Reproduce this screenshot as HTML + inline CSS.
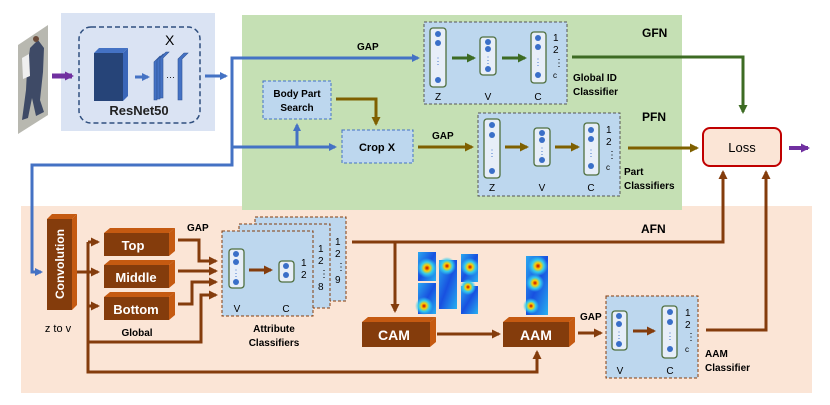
<!DOCTYPE html>
<html><head><meta charset="utf-8"><style>
html,body{margin:0;padding:0;background:#fff;}
svg{display:block;font-family:"Liberation Sans",sans-serif;}
.b{font-weight:bold;}
</style></head><body>
<svg width="830" height="405" viewBox="0 0 830 405" xmlns="http://www.w3.org/2000/svg">
<defs>
<marker id="ab" markerWidth="8" markerHeight="8" refX="6" refY="4" orient="auto" markerUnits="userSpaceOnUse"><path d="M0,0 L8,4 L0,8z" fill="#4472c4"/></marker>
<marker id="ag" markerWidth="9" markerHeight="9" refX="7" refY="4.5" orient="auto" markerUnits="userSpaceOnUse"><path d="M0,0 L9,4.5 L0,9z" fill="#3d6b23"/></marker>
<marker id="ao" markerWidth="9" markerHeight="9" refX="7" refY="4.5" orient="auto" markerUnits="userSpaceOnUse"><path d="M0,0 L9,4.5 L0,9z" fill="#7f6000"/></marker>
<marker id="ar" markerWidth="9" markerHeight="9" refX="7" refY="4.5" orient="auto" markerUnits="userSpaceOnUse"><path d="M0,0 L9,4.5 L0,9z" fill="#843c0c"/></marker>
<marker id="ap" markerWidth="9" markerHeight="9" refX="7" refY="4.5" orient="auto" markerUnits="userSpaceOnUse"><path d="M0,0 L9,4.5 L0,9z" fill="#7030a0"/></marker>
<radialGradient id="hm"><stop offset="0" stop-color="#c00000"/><stop offset="0.3" stop-color="#ffd000"/><stop offset="0.6" stop-color="#33ccee"/><stop offset="1" stop-color="#33ccee" stop-opacity="0"/></radialGradient>
<linearGradient id="hb" x1="0" y1="0" x2="1" y2="1"><stop offset="0" stop-color="#2aa8f0"/><stop offset="0.5" stop-color="#1850e0"/><stop offset="1" stop-color="#28b0f0"/></linearGradient>
</defs>

<rect x="21" y="206" width="791" height="187" fill="#fbe5d6"/>
<rect x="242" y="15" width="440" height="195" fill="#c5e0b4"/>
<rect x="61" y="13" width="154" height="118" fill="#dae3f3"/>

<!-- person -->
<polygon points="18,45 48,25 48,115 18,134" fill="#b8b8b0"/>
<polygon points="30,48 38,40 44,48 43,72 40,100 44,112 36,116 32,98 28,118 22,120 26,90 27,70" fill="#3e4a66"/>
<polygon points="22,58 29,54 30,76 23,79" fill="#efefef"/>
<circle cx="36" cy="39" r="3" fill="#6a4a3a"/>
<line x1="52" y1="76" x2="72" y2="76" stroke="#7030a0" stroke-width="5" marker-end="url(#ap)"/>

<!-- ResNet -->
<rect x="79" y="27" width="121" height="96" rx="12" fill="none" stroke="#2f4f7f" stroke-width="1.5" stroke-dasharray="5,3"/>
<polygon points="94,53 99,48 128,48 123,53" fill="#4472c4"/>
<polygon points="123,53 128,48 128,96 123,101" fill="#3a66b8"/>
<rect x="94" y="53" width="29" height="48" fill="#264478"/>
<line x1="135" y1="77" x2="148" y2="77" stroke="#4472c4" stroke-width="3" marker-end="url(#ab)"/>
<g fill="#4472c4" stroke="#2f5597" stroke-width="0.6">
<polygon points="154,62 160,56 163,56 157,62 157,100 154,100"/>
<polygon points="157,60 163,54 166,54 160,60 160,99 157,99"/>
<polygon points="160,58 166,52 169,52 163,58 163,98 160,98"/>
<polygon points="178,59 184,53 188,53 182,59 182,100 178,100"/>
</g>
<text x="166" y="80" font-size="9">···</text>
<text x="165" y="45" font-size="14">X</text>
<text x="139" y="115" font-size="13" class="b" text-anchor="middle" fill="#222">ResNet50</text>
<line x1="205" y1="76" x2="226" y2="76" stroke="#4472c4" stroke-width="3" marker-end="url(#ab)"/>

<polyline points="32,216 32,165 232,165 232,58 418,58" fill="none" stroke="#4472c4" stroke-width="3" marker-end="url(#ab)"/>
<polyline points="32,200 32,272 41,272" fill="none" stroke="#4472c4" stroke-width="3" marker-end="url(#ab)"/>
<line x1="232" y1="147" x2="335" y2="147" stroke="#4472c4" stroke-width="3" marker-end="url(#ab)"/>
<line x1="297" y1="147" x2="297" y2="125" stroke="#4472c4" stroke-width="3" marker-end="url(#ab)"/>
<text x="357" y="50" font-size="10" class="b">GAP</text>

<rect x="263" y="81" width="68" height="38" fill="#bdd7ee" stroke="#4472c4" stroke-dasharray="3,2"/>
<text x="297" y="97" font-size="10" class="b" text-anchor="middle">Body Part</text>
<text x="297" y="111" font-size="10" class="b" text-anchor="middle">Search</text>
<polyline points="336,99 376,99 376,124" fill="none" stroke="#7f6000" stroke-width="3" marker-end="url(#ao)"/>
<rect x="342" y="130" width="71" height="33" fill="#bdd7ee" stroke="#4472c4" stroke-dasharray="3,2"/>
<text x="377" y="151" font-size="11" class="b" text-anchor="middle">Crop X</text>
<text x="432" y="139" font-size="10" class="b">GAP</text>
<line x1="418" y1="147" x2="472" y2="147" stroke="#7f6000" stroke-width="3" marker-end="url(#ao)"/>

<rect x="424" y="22" width="143" height="82" fill="#bdd7ee" stroke="#555" stroke-dasharray="3,2"/>
<g fill="#e7eef8" stroke="#4f6f3f" stroke-width="1.3">
<rect x="430" y="28" width="16" height="59" rx="3"/>
<rect x="480" y="37" width="16" height="38" rx="3"/>
<rect x="531" y="32" width="15" height="51" rx="3"/>
</g>
<g fill="#3a6fc8">
<circle cx="438" cy="34" r="3"/><circle cx="438" cy="43" r="3"/><circle cx="438" cy="80" r="3"/>
<circle cx="488" cy="42" r="3"/><circle cx="488" cy="49" r="3"/><circle cx="488" cy="69" r="3"/>
<circle cx="538" cy="38" r="3"/><circle cx="538" cy="47" r="3"/><circle cx="538" cy="75" r="3"/>
</g>
<g fill="#3a6fc8" font-size="9" text-anchor="middle"><text x="438" y="64">⋮</text><text x="488" y="63">⋮</text><text x="538" y="65">⋮</text></g>
<line x1="452" y1="58" x2="474" y2="58" stroke="#3d6b23" stroke-width="3" marker-end="url(#ag)"/>
<line x1="502" y1="58" x2="525" y2="58" stroke="#3d6b23" stroke-width="3" marker-end="url(#ag)"/>
<g font-size="10" text-anchor="middle"><text x="438" y="100">Z</text><text x="488" y="100">V</text><text x="538" y="100">C</text></g>
<g font-size="10"><text x="553" y="41">1</text><text x="553" y="53">2</text><text x="554" y="66">⋮</text><text x="553" y="78" font-size="8">c</text></g>
<text x="573" y="81" font-size="10" class="b">Global ID</text>
<text x="573" y="95" font-size="10" class="b">Classifier</text>
<text x="642" y="37" font-size="12" class="b">GFN</text>
<polyline points="572,57 743,57 743,112" fill="none" stroke="#3d6b23" stroke-width="3" marker-end="url(#ag)"/>

<rect x="478" y="113" width="142" height="83" fill="#bdd7ee" stroke="#555" stroke-dasharray="3,2"/>
<g fill="#e7eef8" stroke="#4f6f3f" stroke-width="1.3">
<rect x="484" y="119" width="16" height="59" rx="3"/>
<rect x="534" y="128" width="16" height="38" rx="3"/>
<rect x="584" y="123" width="15" height="52" rx="3"/>
</g>
<g fill="#3a6fc8">
<circle cx="492" cy="125" r="3"/><circle cx="492" cy="135" r="3"/><circle cx="492" cy="171" r="3"/>
<circle cx="542" cy="133" r="3"/><circle cx="542" cy="140" r="3"/><circle cx="542" cy="160" r="3"/>
<circle cx="591" cy="130" r="3"/><circle cx="591" cy="139" r="3"/><circle cx="591" cy="166" r="3"/>
</g>
<g fill="#3a6fc8" font-size="9" text-anchor="middle"><text x="492" y="156">⋮</text><text x="542" y="154">⋮</text><text x="591" y="156">⋮</text></g>
<line x1="505" y1="147" x2="527" y2="147" stroke="#7f6000" stroke-width="3" marker-end="url(#ao)"/>
<line x1="555" y1="147" x2="578" y2="147" stroke="#7f6000" stroke-width="3" marker-end="url(#ao)"/>
<g font-size="10" text-anchor="middle"><text x="492" y="191">Z</text><text x="542" y="191">V</text><text x="591" y="191">C</text></g>
<g font-size="10"><text x="606" y="133">1</text><text x="606" y="145">2</text><text x="607" y="158">⋮</text><text x="606" y="170" font-size="8">c</text></g>
<text x="624" y="175" font-size="10" class="b">Part</text>
<text x="624" y="189" font-size="10" class="b">Classifiers</text>
<text x="642" y="121" font-size="12" class="b">PFN</text>
<line x1="628" y1="148" x2="697" y2="148" stroke="#7f6000" stroke-width="3" marker-end="url(#ao)"/>

<rect x="703" y="128" width="78" height="38" rx="7" fill="#fbe5d6" stroke="#c00000" stroke-width="2"/>
<text x="742" y="152" font-size="13" text-anchor="middle">Loss</text>
<line x1="789" y1="148" x2="808" y2="148" stroke="#7030a0" stroke-width="4" marker-end="url(#ap)"/>

<polygon points="47,219 52,214 77,214 72,219" fill="#c55a11"/>
<polygon points="72,219 77,214 77,305 72,310" fill="#c55a11"/>
<rect x="47" y="219" width="25" height="91" fill="#843c0c"/>
<text transform="translate(64,264) rotate(-90)" font-size="12" class="b" fill="#fff" text-anchor="middle">Convolution</text>
<text x="58" y="332" font-size="11" text-anchor="middle">z to v</text>

<g>
<polygon points="104,233 110,228 175,228 169,233" fill="#c55a11"/>
<polygon points="169,233 175,228 175,251 169,256" fill="#c55a11"/>
<rect x="104" y="233" width="65" height="23" fill="#843c0c"/>
<text x="133" y="250" font-size="13" class="b" fill="#fff" text-anchor="middle">Top</text>
<polygon points="104,265 110,260 175,260 169,265" fill="#c55a11"/>
<polygon points="169,265 175,260 175,283 169,288" fill="#c55a11"/>
<rect x="104" y="265" width="65" height="23" fill="#843c0c"/>
<text x="136" y="282" font-size="13" class="b" fill="#fff" text-anchor="middle">Middle</text>
<polygon points="104,297 110,292 175,292 169,297" fill="#c55a11"/>
<polygon points="169,297 175,292 175,315 169,320" fill="#c55a11"/>
<rect x="104" y="297" width="65" height="23" fill="#843c0c"/>
<text x="136" y="314" font-size="13" class="b" fill="#fff" text-anchor="middle">Bottom</text>
</g>
<text x="137" y="336" font-size="10" class="b" text-anchor="middle">Global</text>
<g fill="none" stroke="#843c0c" stroke-width="3">
<line x1="77" y1="272" x2="98" y2="272" marker-end="url(#ar)"/>
<polyline points="88,242 88,372 537,372 537,352" marker-end="url(#ar)"/>
<line x1="88" y1="242" x2="98" y2="242" marker-end="url(#ar)"/>
<line x1="88" y1="306" x2="98" y2="306" marker-end="url(#ar)"/>
<polyline points="88,342 201,342 201,295 216,295" marker-end="url(#ar)"/>
<polyline points="178,240 199,240 199,261 216,261" marker-end="url(#ar)"/>
<line x1="178" y1="271" x2="216" y2="271" marker-end="url(#ar)"/>
<polyline points="178,304 192,304 192,282 216,282" marker-end="url(#ar)"/>
</g>
<text x="187" y="231" font-size="10" class="b">GAP</text>

<rect x="255" y="217" width="91" height="84" fill="#bdd7ee" stroke="#843c0c" stroke-dasharray="3,2"/>
<rect x="239" y="224" width="91" height="84" fill="#bdd7ee" stroke="#843c0c" stroke-dasharray="3,2"/>
<rect x="222" y="231" width="91" height="85" fill="#bdd7ee" stroke="#843c0c" stroke-dasharray="3,2"/>
<g font-size="10"><text x="335" y="245">1</text><text x="335" y="257">2</text><text x="336" y="270">⋮</text><text x="335" y="283">9</text>
<text x="318" y="252">1</text><text x="318" y="264">2</text><text x="319" y="277">⋮</text><text x="318" y="290">8</text>
<text x="301" y="266">1</text><text x="301" y="278">2</text></g>
<g fill="#e7eef8" stroke="#4f6f3f" stroke-width="1.3">
<rect x="229" y="249" width="15" height="39" rx="3"/>
<rect x="279" y="261" width="15" height="21" rx="3"/>
</g>
<g fill="#3a6fc8"><circle cx="236" cy="254" r="3"/><circle cx="236" cy="262" r="3"/><circle cx="236" cy="282" r="3"/><circle cx="286" cy="266" r="3"/><circle cx="286" cy="275" r="3"/></g>
<text x="236" y="276" font-size="9" fill="#3a6fc8" text-anchor="middle">⋮</text>
<line x1="249" y1="270" x2="271" y2="270" stroke="#843c0c" stroke-width="3" marker-end="url(#ar)"/>
<g font-size="10" text-anchor="middle"><text x="237" y="312">V</text><text x="286" y="312">C</text></g>
<text x="274" y="332" font-size="10" class="b" text-anchor="middle">Attribute</text>
<text x="274" y="346" font-size="10" class="b" text-anchor="middle">Classifiers</text>

<polyline points="352,242 723,242 723,172" fill="none" stroke="#843c0c" stroke-width="3" marker-end="url(#ar)"/>
<line x1="395" y1="242" x2="395" y2="311" stroke="#843c0c" stroke-width="3" marker-end="url(#ar)"/>
<text x="641" y="233" font-size="12" class="b">AFN</text>

<g>
<rect x="418" y="252" width="18" height="29" fill="url(#hb)"/><circle cx="427" cy="268" r="10" fill="url(#hm)"/>
<rect x="418" y="283" width="18" height="31" fill="url(#hb)"/><circle cx="424" cy="306" r="9" fill="url(#hm)"/>
<rect x="439" y="260" width="18" height="49" fill="url(#hb)"/><circle cx="447" cy="266" r="9" fill="url(#hm)"/>
<rect x="461" y="254" width="17" height="28" fill="url(#hb)"/><circle cx="470" cy="267" r="9" fill="url(#hm)"/>
<rect x="461" y="286" width="17" height="28" fill="url(#hb)"/><circle cx="468" cy="287" r="8" fill="url(#hm)"/>
<rect x="526" y="256" width="22" height="59" fill="url(#hb)"/><circle cx="538" cy="266" r="10" fill="url(#hm)"/><circle cx="535" cy="283" r="9" fill="url(#hm)"/><circle cx="531" cy="306" r="8" fill="url(#hm)"/>
</g>

<polygon points="362,322 368,317 436,317 430,322" fill="#c55a11"/>
<polygon points="430,322 436,317 436,342 430,347" fill="#c55a11"/>
<rect x="362" y="322" width="68" height="25" fill="#843c0c"/>
<text x="394" y="340" font-size="14" class="b" fill="#fff" text-anchor="middle">CAM</text>
<polygon points="503,322 509,317 575,317 569,322" fill="#c55a11"/>
<polygon points="569,322 575,317 575,342 569,347" fill="#c55a11"/>
<rect x="503" y="322" width="66" height="25" fill="#843c0c"/>
<text x="536" y="340" font-size="14" class="b" fill="#fff" text-anchor="middle">AAM</text>
<line x1="437" y1="334" x2="499" y2="334" stroke="#843c0c" stroke-width="3" marker-end="url(#ar)"/>
<line x1="578" y1="333" x2="601" y2="333" stroke="#843c0c" stroke-width="3" marker-end="url(#ar)"/>
<text x="580" y="320" font-size="10" class="b">GAP</text>

<rect x="606" y="296" width="92" height="82" fill="#bdd7ee" stroke="#843c0c" stroke-dasharray="3,2"/>
<g fill="#e7eef8" stroke="#4f6f3f" stroke-width="1.3">
<rect x="612" y="311" width="15" height="39" rx="3"/>
<rect x="662" y="306" width="15" height="52" rx="3"/>
</g>
<g fill="#3a6fc8"><circle cx="619" cy="316" r="3"/><circle cx="619" cy="324" r="3"/><circle cx="619" cy="344" r="3"/><circle cx="670" cy="312" r="3"/><circle cx="670" cy="322" r="3"/><circle cx="670" cy="349" r="3"/></g>
<g fill="#3a6fc8" font-size="9" text-anchor="middle"><text x="619" y="338">⋮</text><text x="670" y="339">⋮</text></g>
<line x1="633" y1="331" x2="654" y2="331" stroke="#843c0c" stroke-width="3" marker-end="url(#ar)"/>
<g font-size="10" text-anchor="middle"><text x="620" y="374">V</text><text x="670" y="374">C</text></g>
<g font-size="10"><text x="685" y="316">1</text><text x="685" y="328">2</text><text x="686" y="340">⋮</text><text x="685" y="352" font-size="8">c</text></g>
<text x="705" y="357" font-size="10" class="b">AAM</text>
<text x="705" y="371" font-size="10" class="b">Classifier</text>
<polyline points="706,330 766,330 766,172" fill="none" stroke="#843c0c" stroke-width="3" marker-end="url(#ar)"/>
</svg>
</body></html>
